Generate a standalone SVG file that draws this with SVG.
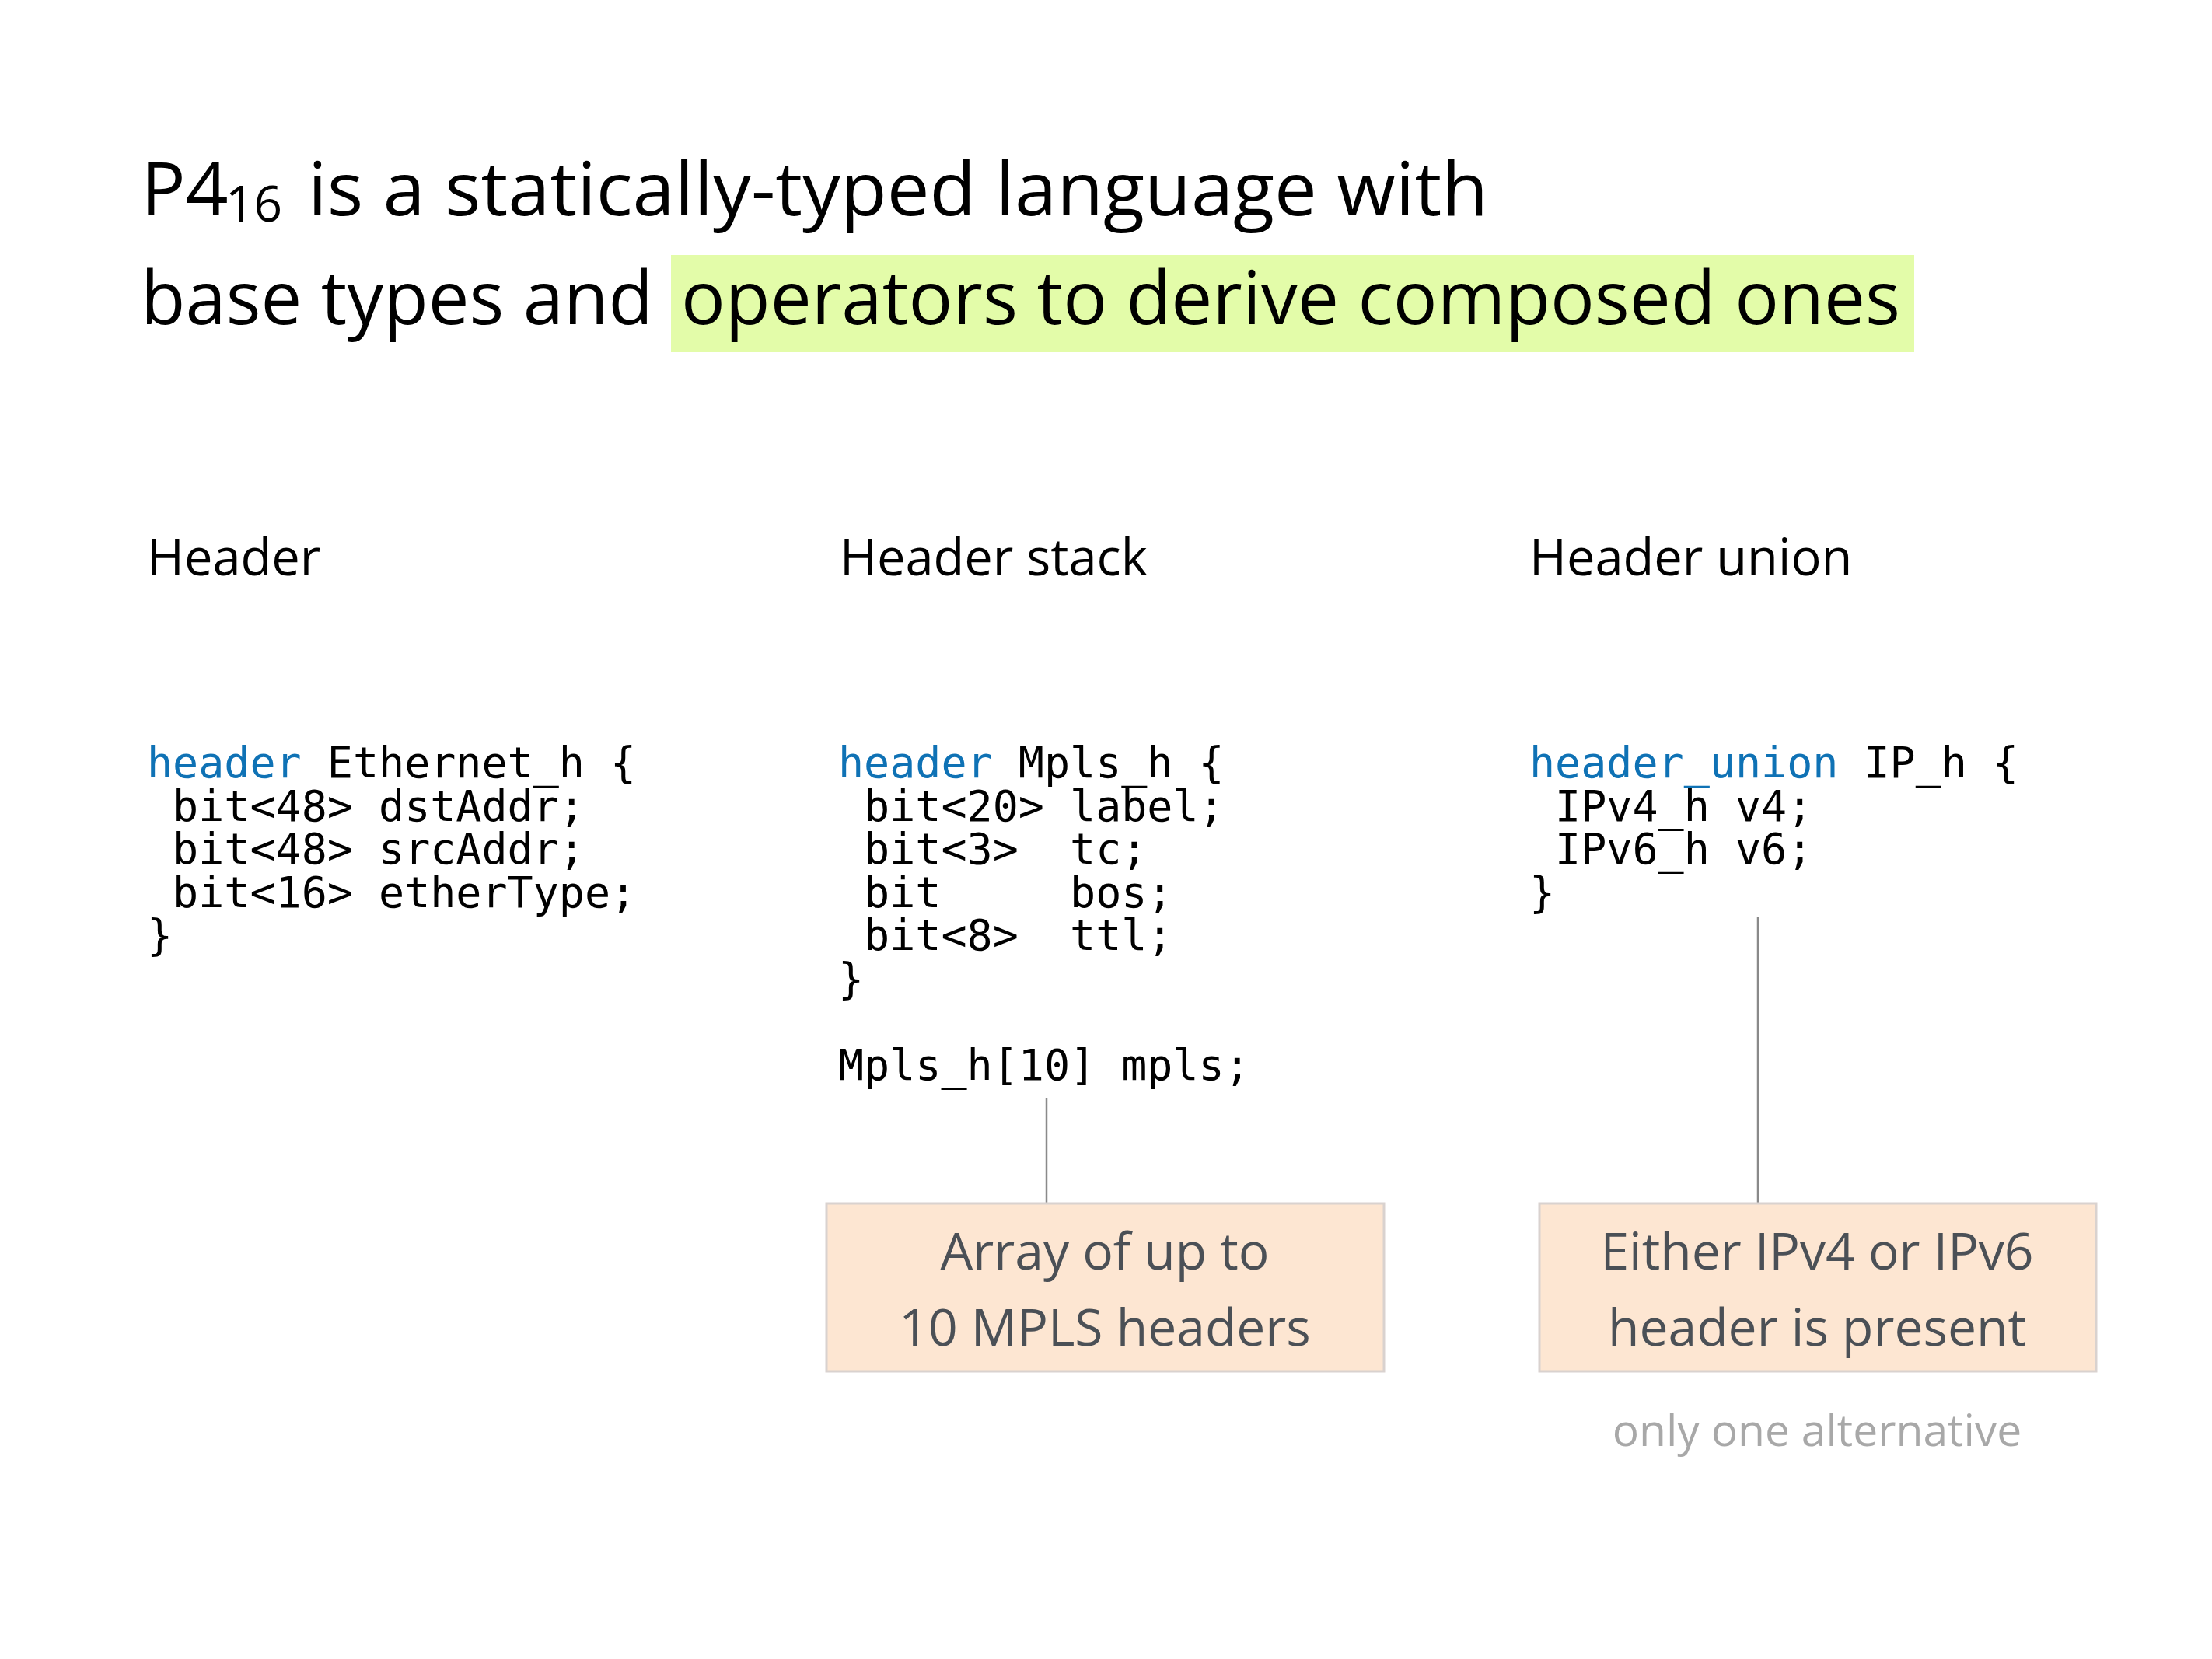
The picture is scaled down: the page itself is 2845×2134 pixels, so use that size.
<svg xmlns="http://www.w3.org/2000/svg" width="2845" height="2134" viewBox="0 0 2845 2134">
<style>
.title{font-family:"Open Sans","Noto Sans",sans-serif;font-size:96px;fill:#000}
.sub{font-size:64px}
.label{font-family:"Open Sans","Noto Sans",sans-serif;font-size:65px;fill:#000}
.code{font-family:"DejaVu Sans Mono","Liberation Mono",monospace;font-size:55px;fill:#000;white-space:pre}
.kw{fill:#0f72b5}
.note{font-family:"Open Sans","Noto Sans",sans-serif;font-size:66px;fill:#4b5056;text-anchor:middle}
.aside{font-family:"Open Sans","Noto Sans",sans-serif;font-size:57px;fill:#a8a8a8;text-anchor:middle}
.box{fill:#fde6d2;stroke:#d9d2cf;stroke-width:3}
.conn{stroke:#8a8a8a;stroke-width:2.5;fill:none}
</style>
<rect width="2845" height="2134" fill="#fff"/>
<g id="title">
<rect x="863" y="328" width="1599" height="125" fill="#e3fca9"/>
<text class="title" x="181" y="277">P4</text>
<text class="title sub" x="290" y="285">16</text>
<text class="title" x="396" y="277" textLength="1518" lengthAdjust="spacingAndGlyphs">is a statically-typed language with</text>
<text class="title" x="181" y="417" textLength="659" lengthAdjust="spacingAndGlyphs">base types and</text>
<text class="title" x="876" y="417" textLength="1568" lengthAdjust="spacingAndGlyphs">operators to derive composed ones</text>
</g>
<g id="header">
<text class="label" x="189" y="740">Header</text>
<text class="code" xml:space="preserve"><tspan x="189" y="1000"><tspan class="kw">header</tspan> Ethernet_h {</tspan><tspan x="189" y="1055.5"> bit&lt;48&gt; dstAddr;</tspan><tspan x="189" y="1111"> bit&lt;48&gt; srcAddr;</tspan><tspan x="189" y="1166.5"> bit&lt;16&gt; etherType;</tspan><tspan x="189" y="1222">}</tspan></text>
</g>
<g id="header-stack">
<text class="label" x="1080" y="740">Header stack</text>
<text class="code" xml:space="preserve"><tspan x="1078" y="1000"><tspan class="kw">header</tspan> Mpls_h {</tspan><tspan x="1078" y="1055.5"> bit&lt;20&gt; label;</tspan><tspan x="1078" y="1111"> bit&lt;3&gt;  tc;</tspan><tspan x="1078" y="1166.5"> bit     bos;</tspan><tspan x="1078" y="1222"> bit&lt;8&gt;  ttl;</tspan><tspan x="1078" y="1277.5">}</tspan><tspan x="1078" y="1388.5">Mpls_h[10] mpls;</tspan></text>
</g>
<g id="header-union">
<text class="label" x="1967" y="740">Header union</text>
<text class="code" xml:space="preserve"><tspan x="1967" y="1000"><tspan class="kw">header_union</tspan> IP_h {</tspan><tspan x="1967" y="1055.5"> IPv4_h v4;</tspan><tspan x="1967" y="1111"> IPv6_h v6;</tspan><tspan x="1967" y="1166.5">}</tspan></text>
</g>
<g id="connectors">
<line class="conn" x1="1346" y1="1412" x2="1346" y2="1548"/>
<line class="conn" x1="2261" y1="1179" x2="2261" y2="1548"/>
</g>
<g id="note-stack">
<rect class="box" x="1063" y="1548" width="717" height="216"/>
<text class="note" x="1421" y="1633">Array of up to</text>
<text class="note" x="1421" y="1731">10 MPLS headers</text>
</g>
<g id="note-union">
<rect class="box" x="1980" y="1548" width="716" height="216"/>
<text class="note" x="2337" y="1633">Either IPv4 or IPv6</text>
<text class="note" x="2337" y="1731">header is present</text>
</g>
<g id="aside">
<text class="aside" x="2337" y="1860">only one alternative</text>
</g>
</svg>
